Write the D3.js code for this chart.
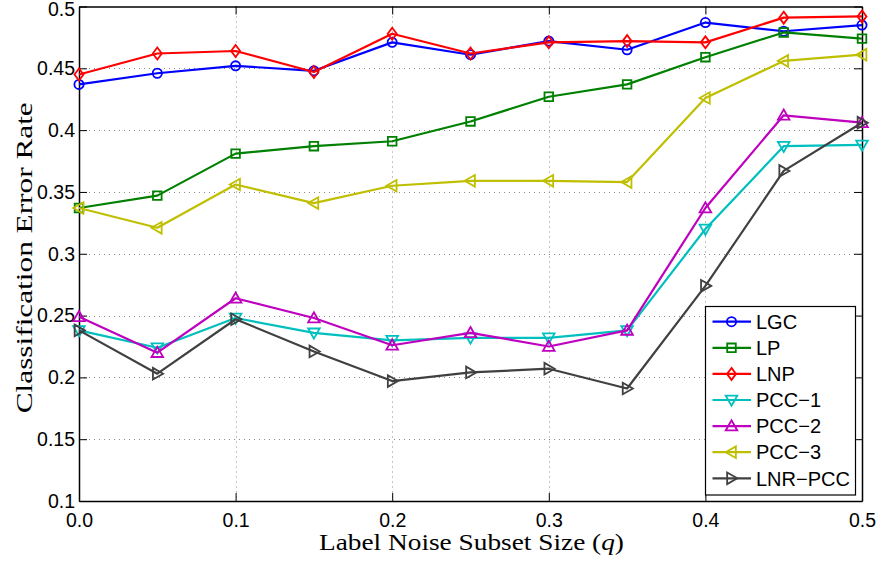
<!DOCTYPE html>
<html><head><meta charset="utf-8">
<script src="https://cdn.jsdelivr.net/npm/d3@7"></script>
<style>body{margin:0;background:#fff}svg{display:block}</style>
</head><body>
<script>
const qValues = [0, 0.05, 0.1, 0.15, 0.2, 0.25, 0.3, 0.35, 0.4, 0.45, 0.5];
const seriesNames = ["LGC", "LP", "LNP", "PCC\u22121", "PCC\u22122", "PCC\u22123", "LNR\u2212PCC"];
const LGC    = [0.437, 0.446, 0.452, 0.448, 0.471, 0.461, 0.472, 0.465, 0.487, 0.480, 0.485];
const LP     = [0.337, 0.347, 0.381, 0.387, 0.391, 0.407, 0.427, 0.437, 0.459, 0.479, 0.474];
const LNP    = [0.445, 0.462, 0.464, 0.447, 0.478, 0.462, 0.471, 0.472, 0.471, 0.491, 0.492];
const PCC1   = [0.238, 0.224, 0.248, 0.236, 0.230, 0.232, 0.232, 0.238, 0.320, 0.387, 0.388];
const PCC2   = [0.249, 0.220, 0.264, 0.248, 0.226, 0.236, 0.225, 0.238, 0.337, 0.412, 0.406];
const PCC3   = [0.337, 0.321, 0.356, 0.341, 0.355, 0.359, 0.359, 0.358, 0.426, 0.456, 0.461];
const LNRPCC = [0.238, 0.203, 0.247, 0.221, 0.197, 0.204, 0.207, 0.191, 0.274, 0.367, 0.406];
const xTicks = [0, 0.1, 0.2, 0.3, 0.4, 0.5];
const yTicks = [0.1, 0.15, 0.2, 0.25, 0.3, 0.35, 0.4, 0.45, 0.5];
const colors = ["#0000ff", "#008000", "#ff0000", "#00bfbf", "#bf00bf", "#bfbf00", "#404040"];
const markers = ["circle", "square", "diamond", "tdown", "tup", "tleft", "tright"];
const seriesValues = [LGC, LP, LNP, PCC1, PCC2, PCC3, LNRPCC];

const W = 881, H = 562;
const L = 79, R = 862, T = 6.5, B = 501;
const svg = d3.select("body").append("svg").attr("width", W).attr("height", H);
const x = d3.scaleLinear().domain([0, 0.5]).range([L, R]);
const y = d3.scaleLinear().domain([0.1, 0.5]).range([B, T]);

// grid
const grid = svg.append("g").attr("stroke", "#8a8a8a").attr("stroke-width", 1).attr("stroke-dasharray", "1,4");
grid.selectAll(".gx").data(xTicks.slice(1, -1)).join("line")
  .attr("x1", d => Math.round(x(d)) + 0.5).attr("x2", d => Math.round(x(d)) + 0.5).attr("y1", T).attr("y2", B);
grid.selectAll(".gy").data(yTicks.slice(1, -1)).join("line")
  .attr("y1", d => Math.round(y(d)) + 0.5).attr("y2", d => Math.round(y(d)) + 0.5).attr("x1", L).attr("x2", R);

// axes
const fmtY = d => d3.format("")(+d.toFixed(2));
const ax = svg.append("g").attr("transform", `translate(0,${B})`)
  .call(d3.axisBottom(x).tickValues(xTicks).tickFormat(d3.format(".1f")).tickSizeInner(-8).tickSizeOuter(0).tickPadding(12));
const ay = svg.append("g").attr("transform", `translate(${L},0)`)
  .call(d3.axisLeft(y).tickValues(yTicks).tickFormat(fmtY).tickSizeInner(-8).tickSizeOuter(0).tickPadding(12));
const axT = svg.append("g").attr("transform", `translate(0,${T})`)
  .call(d3.axisTop(x).tickValues(xTicks).tickFormat("").tickSizeInner(-8).tickSizeOuter(0));
const ayR = svg.append("g").attr("transform", `translate(${R},0)`)
  .call(d3.axisRight(y).tickValues(yTicks).tickFormat("").tickSizeInner(-8).tickSizeOuter(0));
[ax, ay, axT, ayR].forEach(g => {
  g.select(".domain").attr("stroke", "#000").attr("stroke-width", 1.5);
  g.selectAll(".tick line").attr("stroke", "#000").attr("stroke-width", 1);
  g.selectAll("text").attr("font-family", "Liberation Sans, Arial, sans-serif").attr("font-size", 19.5).attr("fill", "#000");
});
ax.selectAll("text").attr("dy", "0.71em");
ay.selectAll("text").attr("dx", "8");
ay.selectAll(".tick").filter(d => d === 0.5).select("text").attr("dy", "0.45em");

// axis labels
svg.append("text").attr("x", (L + R) / 2 + 1).attr("y", 550).attr("text-anchor", "middle")
  .attr("font-family", "Liberation Serif, Times New Roman, serif").attr("font-size", 23)
  .attr("textLength", 305).attr("lengthAdjust", "spacingAndGlyphs")
  .html('Label Noise Subset Size (<tspan font-style="italic">q</tspan>)');
svg.append("text").attr("transform", `translate(32,${(T + B) / 2 + 4}) rotate(-90)`).attr("text-anchor", "middle")
  .attr("font-family", "Liberation Serif, Times New Roman, serif").attr("font-size", 23)
  .attr("textLength", 311).attr("lengthAdjust", "spacingAndGlyphs")
  .text("Classification Error Rate");

function markerPath(type, cx, cy) {
  const p = d3.path();
  const s = 4.6, t = 5.8;
  if (type === "circle") { p.moveTo(cx + s, cy); p.arc(cx, cy, s, 0, 2 * Math.PI); }
  else if (type === "square") { p.rect(cx - 4.3, cy - 4.3, 8.6, 8.6); }
  else if (type === "diamond") { p.moveTo(cx, cy - 6); p.lineTo(cx + 4.5, cy); p.lineTo(cx, cy + 6); p.lineTo(cx - 4.5, cy); p.closePath(); }
  else if (type === "tup") { p.moveTo(cx, cy - t); p.lineTo(cx + t, cy + t * 0.75); p.lineTo(cx - t, cy + t * 0.75); p.closePath(); }
  else if (type === "tdown") { p.moveTo(cx, cy + t); p.lineTo(cx + t, cy - t * 0.75); p.lineTo(cx - t, cy - t * 0.75); p.closePath(); }
  else if (type === "tleft") { p.moveTo(cx - t, cy); p.lineTo(cx + t * 0.75, cy - t); p.lineTo(cx + t * 0.75, cy + t); p.closePath(); }
  else if (type === "tright") { p.moveTo(cx + t, cy); p.lineTo(cx - t * 0.75, cy - t); p.lineTo(cx - t * 0.75, cy + t); p.closePath(); }
  return p.toString();
}

const line = d3.line().x((d, i) => x(qValues[i])).y(d => y(d));
const plot = svg.append("g");
seriesValues.forEach((vals, k) => {
  const g = plot.append("g");
  g.append("path").attr("d", line(vals)).attr("fill", "none").attr("stroke", colors[k]).attr("stroke-width", 2.2).attr("stroke-linejoin", "round");
  g.selectAll("path.m").data(vals).join("path").attr("class", "m")
    .attr("d", (d, i) => markerPath(markers[k], x(qValues[i]), y(d)))
    .attr("fill", "none").attr("stroke", colors[k]).attr("stroke-width", 1.8);
});

// legend
const lg = svg.append("g");
lg.append("rect").attr("x", 705.5).attr("y", 306.5).attr("width", 150).attr("height", 188.5)
  .attr("fill", "#fff").attr("stroke", "#000").attr("stroke-width", 1.2);
seriesNames.forEach((name, k) => {
  const cy = 321.7 + k * 26.1;
  lg.append("line").attr("x1", 712.5).attr("x2", 751).attr("y1", cy).attr("y2", cy).attr("stroke", colors[k]).attr("stroke-width", 2.2);
  lg.append("path").attr("d", markerPath(markers[k], 731.5, cy)).attr("fill", "none").attr("stroke", colors[k]).attr("stroke-width", 1.8);
  lg.append("text").attr("x", 756).attr("y", cy + 7.2).attr("font-family", "Liberation Sans, Arial, sans-serif")
    .attr("font-size", 20).attr("fill", "#000").text(name);
});
</script>
</body></html>
